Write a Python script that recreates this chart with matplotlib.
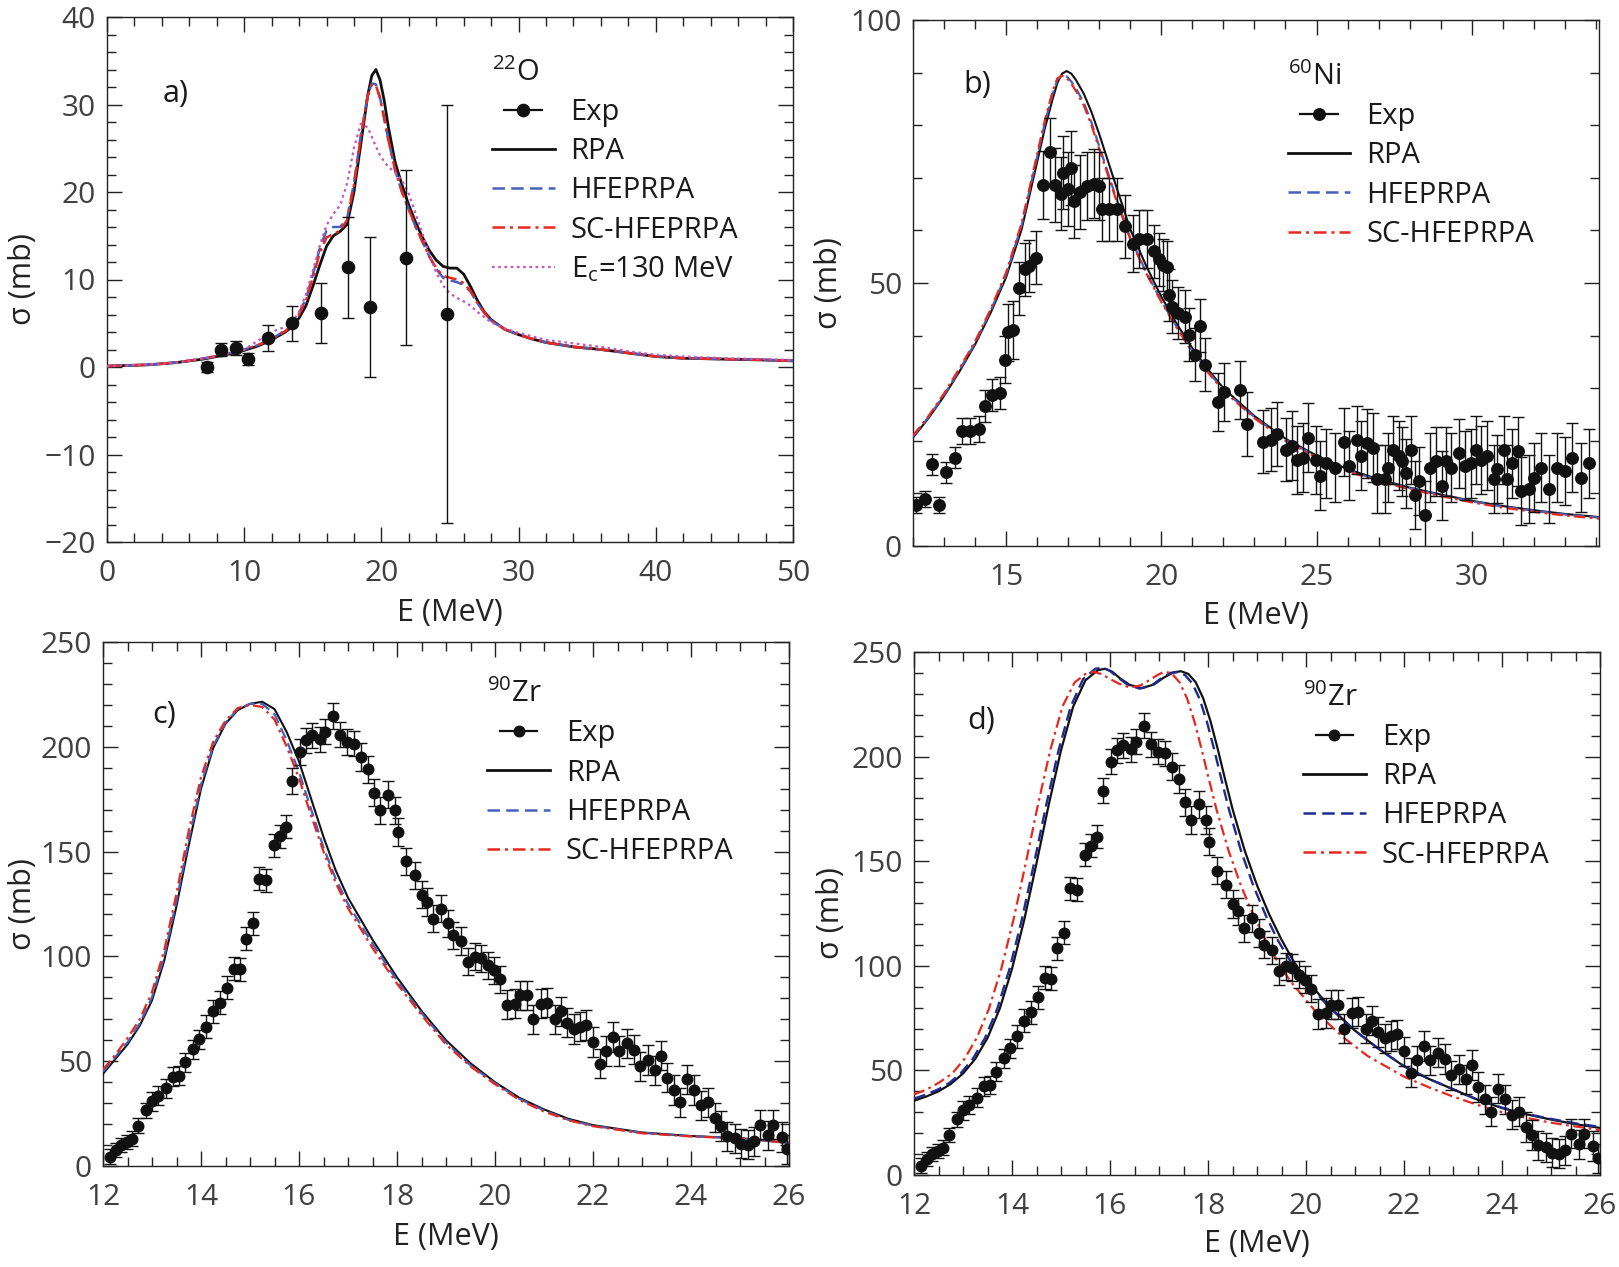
import matplotlib
matplotlib.use("Agg")
import matplotlib.pyplot as plt
from matplotlib.ticker import MultipleLocator
from matplotlib.lines import Line2D
from matplotlib.legend_handler import HandlerLine2D

plt.rcParams['font.family'] = ['Open Sans', 'DejaVu Sans']
plt.rcParams['mathtext.fontset'] = 'custom'
plt.rcParams['mathtext.rm'] = 'Open Sans'
plt.rcParams['mathtext.it'] = 'Open Sans:italic'
plt.rcParams['mathtext.bf'] = 'Open Sans:bold'

# ---------------- panel a : 22O ----------------
a_exp_E = [7.3, 8.3, 9.4, 10.3, 11.7, 13.5, 15.6, 17.6, 19.2, 21.8, 24.8]
a_exp_s = [0.0, 2.0, 2.2, 0.9, 3.3, 5.0, 6.2, 11.4, 6.9, 12.5, 6.1]
a_exp_err = [0.6, 0.7, 0.8, 0.7, 1.5, 2.0, 3.4, 5.8, 8.0, 10.0, 23.9]

a_E = [0, 3, 5, 7, 8, 9, 10, 11, 12, 13, 13.5, 14, 14.5, 15, 15.5, 16, 16.5, 17, 17.5, 18,
       18.5, 19, 19.3, 19.6, 19.9, 20.2, 20.5, 21, 21.5, 22, 22.5, 23, 23.5, 24, 24.5, 25,
       25.5, 26, 26.5, 27, 27.5, 28, 29, 30, 31, 32, 34, 36, 38, 40, 42, 45, 48, 50]
a_rpa = [0.1, 0.25, 0.5, 0.9, 1.2, 1.5, 1.9, 2.4, 3.1, 4.0, 4.6, 5.6, 7.0, 9.2, 11.6, 13.8,
         15.0, 15.5, 16.3, 20.0, 25.5, 31.0, 33.3, 34.0, 32.8, 30.5, 27.5, 23.4, 20.8, 18.5,
         16.5, 14.8, 13.3, 12.2, 11.5, 11.3, 11.3, 10.6, 9.2, 7.6, 6.3, 5.4, 4.3, 3.7, 3.2,
         2.8, 2.3, 2.0, 1.6, 1.2, 1.0, 0.9, 0.8, 0.7]
a_hf = [0.1, 0.25, 0.5, 0.95, 1.25, 1.6, 2.0, 2.5, 3.2, 4.2, 5.0, 6.2, 7.8, 10.5, 13.5, 15.6,
        16.0, 16.0, 17.0, 21.0, 26.5, 31.0, 32.4, 32.3, 30.8, 28.5, 26.0, 22.5, 20.0, 18.0,
        16.0, 14.3, 12.6, 11.2, 10.2, 9.9, 9.7, 9.4, 8.6, 7.3, 6.2, 5.3, 4.3, 3.7, 3.2,
        2.8, 2.3, 2.0, 1.6, 1.2, 1.0, 0.9, 0.8, 0.7]
a_sc = [0.1, 0.25, 0.5, 0.95, 1.25, 1.6, 2.0, 2.5, 3.2, 4.1, 4.9, 6.0, 7.6, 10.2, 13.0, 14.8,
        15.2, 15.6, 16.8, 20.8, 26.3, 31.0, 32.3, 32.2, 30.7, 28.4, 26.0, 22.5, 20.0, 18.0,
        16.0, 14.3, 12.6, 11.3, 10.4, 10.2, 10.0, 9.6, 8.7, 7.3, 6.2, 5.3, 4.3, 3.7, 3.2,
        2.8, 2.3, 2.0, 1.6, 1.2, 1.0, 0.9, 0.8, 0.7]
a_ec = [0.1, 0.3, 0.5, 1.0, 1.3, 1.6, 2.0, 3.0, 4.0, 4.6, 5.1, 6.3, 8.3, 11.0, 13.8, 16.2,
        17.5, 18.5, 21.0, 25.0, 27.8, 27.4, 26.3, 25.2, 24.2, 23.5, 22.9, 22.2, 21.3, 19.8,
        17.5, 15.2, 12.8, 10.8, 9.3, 8.4, 7.9, 7.5, 7.0, 6.3, 5.7, 5.1, 4.4, 3.9, 3.5,
        3.1, 2.7, 2.3, 1.8, 1.4, 1.2, 1.0, 0.9, 0.8]

# ---------------- panel b : 60Ni ----------------
b_exp_E = [12.11, 12.39, 12.61, 12.84, 13.06, 13.35, 13.58, 13.85, 14.13, 14.31,
           14.56, 14.81, 14.97, 15.06, 15.23, 15.42, 15.61, 15.74, 15.95, 16.19,
           16.42, 16.58, 16.76, 16.84, 17.0, 17.08, 17.19, 17.39, 17.61, 17.84,
           18.0, 18.08, 18.32, 18.56, 18.84, 19.08, 19.29, 19.53, 19.77, 19.94,
           20.06, 20.18, 20.26, 20.34, 20.55, 20.77, 20.9, 21.1, 21.26, 21.42,
           21.81, 22.03, 22.52, 22.76, 23.26, 23.52, 23.73, 24.02, 24.21, 24.37,
           24.58, 24.74, 24.97, 25.1, 25.29, 25.58, 25.87, 26.06, 26.31, 26.44,
           26.63, 26.82, 26.95, 27.19, 27.31, 27.47, 27.65, 27.76, 27.89, 28.03,
           28.16, 28.29, 28.48, 28.65, 28.84, 29.05, 29.16, 29.32, 29.58, 29.77,
           29.97, 30.13, 30.29, 30.5, 30.71, 30.82, 31.03, 31.15, 31.31, 31.5,
           31.58, 31.84, 32.0, 32.24, 32.48, 32.76, 33.0, 33.24, 33.52, 33.77]
b_exp_s = [7.8, 9.0, 15.5, 7.8, 14.0, 16.8, 21.9, 21.9, 22.2, 26.6,
           28.7, 29.1, 35.4, 40.6, 41.0, 49.0, 52.6, 53.2, 54.8, 68.6,
           74.9, 68.6, 67.0, 71.0, 67.9, 71.9, 65.5, 67.3, 68.5, 68.9,
           68.5, 64.0, 64.0, 64.0, 60.8, 57.5, 58.3, 58.3, 56.0, 54.5,
           53.4, 53.0, 47.7, 45.5, 44.3, 43.6, 40.2, 36.4, 41.9, 34.5,
           27.4, 29.3, 29.6, 23.2, 19.8, 20.2, 21.3, 18.3, 19.1, 16.4,
           16.8, 20.6, 16.4, 13.4, 15.7, 14.9, 19.8, 15.3, 20.2, 17.2,
           19.5, 18.7, 12.7, 12.7, 14.9, 18.3, 17.2, 16.1, 13.8, 18.3,
           9.7, 12.3, 5.9, 14.9, 16.1, 11.5, 16.1, 14.9, 17.6, 15.3,
           15.7, 18.3, 16.4, 17.2, 12.7, 14.6, 18.3, 12.7, 15.7, 18.0,
           10.4, 10.8, 13.0, 14.9, 10.8, 14.9, 14.2, 16.8, 13.0, 15.7]
b_exp_err = [1.5, 1.5, 2.0, 1.5, 2.0, 2.0, 2.5, 2.5, 2.5, 3.0,
             3.0, 3.0, 4.5, 5.5, 5.5, 5.0, 5.0, 5.0, 5.0, 6.5,
             6.5, 7.0, 7.0, 7.0, 7.0, 7.0, 7.0, 7.0, 6.5, 6.5,
             6.5, 6.0, 6.0, 6.0, 6.0, 5.5, 5.5, 5.5, 5.0, 5.0,
             5.0, 5.0, 5.0, 5.0, 5.0, 5.0, 5.0, 5.0, 5.0, 5.0,
             5.5, 5.5, 5.5, 6.0, 6.0, 6.0, 6.0, 6.0, 6.5, 6.5,
             6.5, 6.5, 6.5, 6.5, 6.5, 6.5, 6.5, 6.5, 6.5, 6.5,
             6.5, 6.5, 6.5, 6.5, 6.5, 6.5, 6.5, 6.5, 6.5, 6.5,
             6.5, 6.5, 6.5, 6.5, 6.5, 6.5, 6.5, 6.5, 6.5, 6.5,
             6.5, 6.5, 6.5, 6.5, 6.5, 6.5, 6.5, 6.5, 6.5, 6.5,
             6.5, 6.5, 6.5, 6.5, 6.5, 6.5, 6.5, 6.5, 6.5, 6.5]

b_E = [12, 12.5, 13, 13.5, 14, 14.5, 15, 15.5, 16, 16.25, 16.5, 16.65, 16.8, 16.95, 17.1,
       17.25, 17.5, 17.75, 18, 18.5, 19, 19.5, 20, 20.5, 21, 21.5, 22, 23, 24, 25, 26, 27,
       28, 29, 30, 31, 32, 33, 34.1]
b_rpa = [20.6, 24.3, 28.5, 33.2, 38.3, 44.3, 51.1, 60.2, 73, 79.5, 85, 88, 89.8, 90.3, 89.8,
         88.6, 86, 82.5, 78.3, 69.2, 60.2, 53.4, 47.4, 42.2, 37.6, 33.6, 30, 24.7, 20.4,
         17.2, 14.6, 12.7, 11.1, 9.8, 8.6, 7.6, 6.8, 6.1, 5.5]
b_hf = [20.8, 24.5, 28.7, 33.5, 38.6, 44.7, 51.6, 61, 74, 80.5, 86, 88.6, 89.5, 89.3, 88.3,
        87, 84.3, 80.5, 76, 67, 58.6, 52.2, 46.6, 41.6, 37.1, 33.2, 29.7, 24.5, 20.2, 17.0,
        14.4, 12.5, 11.0, 9.7, 8.5, 7.5, 6.7, 6.0, 5.4]
b_sc = [21, 24.7, 29, 33.8, 38.9, 45, 52, 61.4, 74.5, 81, 86.5, 88.9, 89.4, 89.0, 87.9,
        86.5, 83.8, 80, 75.5, 66.6, 58.3, 52, 46.4, 41.4, 36.9, 33, 29.5, 24.3, 20.0, 16.8,
        14.2, 12.3, 10.8, 9.5, 8.3, 7.3, 6.5, 5.8, 5.2]

# ---------------- panels c, d : 90Zr ----------------
zr_exp_E = [12.15, 12.27, 12.37, 12.49, 12.6, 12.71, 12.87, 13.0, 13.12, 13.28,
            13.43, 13.55, 13.68, 13.84, 13.96, 14.11, 14.24, 14.38, 14.53, 14.67,
            14.79, 14.91, 15.06, 15.18, 15.33, 15.48, 15.61, 15.74, 15.86, 16.03,
            16.14, 16.27, 16.42, 16.54, 16.69, 16.83, 16.97, 17.12, 17.26, 17.41,
            17.54, 17.66, 17.82, 17.95, 18.03, 18.19, 18.36, 18.5, 18.61, 18.73,
            18.9, 19.04, 19.14, 19.31, 19.45, 19.59, 19.72, 19.86, 19.97, 20.11,
            20.24, 20.4, 20.52, 20.65, 20.78, 20.93, 21.06, 21.22, 21.35, 21.47,
            21.61, 21.74, 21.86, 22.0, 22.14, 22.27, 22.41, 22.53, 22.69, 22.83,
            22.96, 23.13, 23.26, 23.38, 23.52, 23.65, 23.78, 23.92, 24.07, 24.2,
            24.35, 24.48, 24.61, 24.74, 24.89, 25.02, 25.17, 25.29, 25.41, 25.58,
            25.68, 25.86, 25.96]
zr_exp_s = [4.4, 7.6, 10.0, 11.5, 13.1, 19.2, 26.6, 30.9, 33.5, 37.0,
            42.5, 43.0, 49.4, 55.7, 60.5, 66.4, 73.8, 77.8, 85.0, 94.2,
            93.9, 108.5, 115.7, 137.1, 136.3, 153.0, 157.3, 161.8, 183.7, 197.5,
            203.1, 205.5, 203.6, 207.1, 214.7, 205.8, 202.3, 201.5, 195.1, 189.3,
            178.1, 169.7, 177.2, 169.7, 159.4, 145.4, 138.7, 129.5, 126.0, 118.0,
            122.8, 115.7, 110.1, 107.4, 97.4, 99.8, 99.0, 95.8, 93.4, 89.0,
            77.0, 77.5, 81.5, 81.5, 70.0, 77.5, 78.0, 70.0, 73.8, 68.4,
            65.3, 66.4, 67.2, 59.2, 48.9, 54.8, 61.6, 54.8, 58.5, 55.5,
            47.6, 50.6, 45.7, 52.6, 42.1, 36.2, 30.3, 41.3, 36.2, 28.9,
            30.3, 23.0, 19.1, 14.2, 13.2, 10.6, 10.2, 11.8, 19.7, 14.6,
            19.7, 13.8, 7.9]
zr_exp_err = [3.5, 3.5, 3.5, 3.5, 3.5, 3.5, 3.5, 4.5, 4.5, 4.5,
              4.5, 4.5, 4.5, 4.5, 4.5, 5.5, 5.5, 5.5, 5.5, 5.5,
              5.5, 5.5, 5.5, 5.5, 5.5, 5.5, 5.5, 5.5, 6.0, 6.0,
              6.0, 6.0, 6.0, 6.0, 6.0, 6.0, 6.0, 6.0, 6.5, 6.5,
              6.5, 6.5, 6.5, 6.5, 6.5, 6.5, 6.5, 6.5, 6.5, 6.5,
              6.5, 6.5, 6.5, 6.5, 6.5, 6.5, 6.5, 6.5, 6.5, 6.5,
              7.0, 7.0, 7.0, 7.0, 7.0, 7.0, 7.0, 7.0, 7.0, 7.0,
              7.0, 7.0, 7.0, 7.0, 7.0, 7.0, 7.0, 7.0, 7.0, 7.0,
              7.0, 7.0, 7.0, 7.0, 7.0, 7.0, 7.0, 7.0, 7.0, 7.0,
              7.0, 7.0, 7.0, 7.0, 7.0, 7.0, 7.0, 7.0, 7.0, 7.0,
              7.0, 7.0, 7.0]

c_E = [12, 12.25, 12.5, 12.75, 13, 13.25, 13.5, 13.75, 14, 14.25, 14.5, 14.75, 15, 15.25,
       15.5, 15.75, 16, 16.25, 16.5, 16.75, 17, 17.5, 18, 18.5, 19, 19.5, 20, 20.5, 21, 21.5,
       22, 23, 24, 25, 26]
c_rpa = [44, 51, 58, 67, 79, 98, 124, 153, 180, 199.5, 211, 217.5, 220.5, 221.5, 218, 207,
         193, 175, 157, 141, 128, 108, 90, 74, 60, 49, 40, 32.5, 27, 22.5, 19.5, 16, 14.3,
         13.3, 11]
c_hf = [45, 52, 59, 68, 80.5, 100, 126.5, 155.5, 182, 200.5, 211.5, 218, 220.5, 220.5, 215.5,
        203, 188, 170, 152, 137, 125, 106, 88.5, 73, 59, 48, 39.5, 32, 26.5, 22, 19.2, 15.8,
        14.2, 13.2, 11]
c_sc = [46, 53, 61, 70, 83, 103, 130, 160, 185.5, 202.5, 212.5, 218.5, 220, 219, 213, 200,
        185, 167, 150, 135, 123, 104, 87, 72, 58, 47.5, 39, 31.5, 26, 21.8, 19, 15.6, 14.1,
        13.2, 11]

d_rpa_E = [12, 12.25, 12.5, 12.75, 13, 13.25, 13.5, 13.75, 14, 14.25,
           14.5, 14.75, 15, 15.25, 15.5, 15.75, 15.9, 16.05, 16.2, 16.4,
           16.65, 16.9, 17.1, 17.3, 17.45, 17.6, 17.75, 17.9, 18.05, 18.2,
           18.35, 18.5, 18.75, 19, 19.25, 19.5, 19.75, 20, 20.5, 21,
           21.5, 22, 22.5, 23, 23.5, 24, 24.5, 25, 25.5, 26]
d_rpa = [35.5, 37.5, 40, 43.5, 48.5, 55.5, 65.5, 79.5, 98.5, 122,
         149, 177, 203, 224, 236.5, 241.3, 242, 240.5, 237.5, 234.3,
         232.7, 234.5, 237.8, 240.3, 240.8, 239.5, 235.5, 228, 217, 203.5,
         189, 175, 155, 138.5, 124.5, 112.5, 102, 93.5, 80, 69,
         60, 52, 46, 41, 36, 32, 29, 26.5, 24.3, 22.5]
d_hf_E = [12, 12.25, 12.5, 12.72, 12.95, 13.2, 13.45, 13.7, 13.95, 14.2,
          14.45, 14.7, 14.95, 15.2, 15.45, 15.7, 15.85, 16.0, 16.15, 16.35,
          16.6, 16.85, 17.05, 17.23, 17.38, 17.53, 17.68, 17.83, 17.98, 18.13,
          18.28, 18.43, 18.68, 18.93, 19.18, 19.43, 19.7, 19.96, 20.48, 21,
          21.5, 22, 22.5, 23, 23.5, 24, 24.5, 25, 25.5, 26]
d_hf = [36.5, 38.5, 41, 44, 48.5, 55.5, 65.5, 79.5, 98.5, 122,
        149, 177, 203, 224, 237, 242, 242.5, 241, 238, 234.5,
        232.5, 234, 237.5, 240, 240.3, 239, 235, 227.5, 216.5, 203,
        188.5, 174.5, 154.5, 138, 124, 112, 101.5, 93.5, 80, 69,
        60, 52, 46, 41, 36, 32.2, 29.2, 26.8, 24.7, 23]
d_sc_E = [12, 12.25, 12.5, 12.78, 13.03, 13.28, 13.53, 13.78, 14.03, 14.28,
          14.53, 14.78, 15.03, 15.28, 15.5, 15.67, 15.82, 15.97, 16.17, 16.4,
          16.62, 16.8, 16.97, 17.1, 17.25, 17.42, 17.57, 17.72, 17.87, 18.02,
          18.17, 18.42, 18.67, 18.92, 19.17, 19.42, 19.67, 20.2, 20.75, 21.25,
          22, 22.5, 23, 23.5, 24, 24.5, 25, 25.5, 26]
d_sc = [38.5, 40.8, 44, 48.5, 55.5, 65.5, 79.5, 98.5, 122, 149,
        177, 203, 224, 235.5, 239.5, 240.5, 239.5, 237.5, 235, 233,
        234, 236.5, 239, 240.5, 240, 235.5, 228, 217, 203.5, 189,
        175, 155, 138.5, 124.5, 112.5, 102, 93, 78, 66, 57,
        47, 42, 37.5, 33.5, 30, 27.3, 25, 23.2, 21.5]

# ---------------- styling ----------------
BLACK = '#111111'
BLUE = '#4660bd'
NAVY = '#1f2b8f'
RED = '#e8281f'
MAG = '#c257be'
TICKC = '#404040'
FS = 21.5

W, H = 1619, 1267
fig = plt.figure(figsize=(W / 100, H / 100), dpi=100)


def add_axes(x0, y0, x1, y1):
    return fig.add_axes([x0 / W, 1 - y1 / H, (x1 - x0) / W, (y1 - y0) / H])


class ShortLine(HandlerLine2D):
    def __init__(self, frac=0.6, **kw):
        super().__init__(**kw)
        self.frac = frac

    def create_artists(self, legend, orig_handle, xdescent, ydescent, width, height,
                       fontsize, trans):
        w = width * self.frac
        xd = xdescent - (width - w) / 2
        return super().create_artists(legend, orig_handle, xd, ydescent, w, height,
                                      fontsize, trans)


def style(ax, xlim, ylim, xmaj, xmin, ymaj, ymin, xlab_y, ylab_x):
    ax.set_xlim(*xlim)
    ax.set_ylim(*ylim)
    ax.xaxis.set_major_locator(MultipleLocator(xmaj))
    ax.xaxis.set_minor_locator(MultipleLocator(xmin))
    ax.yaxis.set_major_locator(MultipleLocator(ymaj))
    ax.yaxis.set_minor_locator(MultipleLocator(ymin))
    ax.tick_params(which='both', direction='in', top=True, right=True, width=1.0,
                   color='#222222')
    ax.tick_params(which='major', length=10.5)
    ax.tick_params(which='minor', length=6.5)
    ax.tick_params(axis='x', which='major', pad=12, labelsize=FS, labelcolor=TICKC)
    ax.tick_params(axis='y', which='major', pad=8, labelsize=FS, labelcolor=TICKC)
    for s in ax.spines.values():
        s.set_linewidth(1.0)
        s.set_color('#222222')
    ax.set_xlabel('E (MeV)', fontsize=22, color='#222222', va='center')
    ax.xaxis.set_label_coords(0.5, xlab_y)
    ax.set_ylabel('σ (mb)', fontsize=22, color='#222222', va='center')
    ax.yaxis.set_label_coords(ylab_x, 0.5)


def exp_points(ax, E, s, err, ms, cap):
    ax.errorbar(E, s, yerr=err, fmt='o', color=BLACK, ms=ms, elinewidth=1.0,
                capsize=cap, capthick=1.0, zorder=5)


def add_legend(ax, title, handles, labels, anchor):
    leg = ax.legend(handles, labels, title=title, loc='upper left', bbox_to_anchor=anchor,
                    frameon=False, fontsize=21, title_fontsize=21, borderpad=0,
                    borderaxespad=0, handlelength=2.15, handletextpad=0.55,
                    labelspacing=0.35, alignment='left',
                    handler_map={handles[0]: ShortLine(0.6)})
    for t in leg.get_texts():
        t.set_color('#1a1a1a')
    leg.get_title().set_color('#1a1a1a')
    return leg


def legend_handles(ms, hfcolor, with_ec=False):
    hs = [Line2D([], [], color=BLACK, marker='o', ms=ms, lw=1.6),
          Line2D([], [], color=BLACK, lw=2.0),
          Line2D([], [], color=hfcolor, lw=1.8, ls=(0, (5, 2.5))),
          Line2D([], [], color=RED, lw=1.8, ls=(0, (5, 2, 1.2, 2)))]
    if with_ec:
        hs.append(Line2D([], [], color=MAG, lw=1.6, ls=(0, (1.2, 1.6))))
    return hs


# ---- panel a ----
axA = add_axes(107, 17, 793, 542)
axA.plot(a_E, a_rpa, color=BLACK, lw=2.0, zorder=3)
axA.plot(a_E, a_hf, color=BLUE, lw=1.8, ls=(0, (5, 2.5)), zorder=3)
axA.plot(a_E, a_sc, color=RED, lw=1.8, ls=(0, (5, 2, 1.2, 2)), zorder=3)
axA.plot(a_E, a_ec, color=MAG, lw=1.6, ls=(0, (1.2, 1.6)), zorder=3)
exp_points(axA, a_exp_E, a_exp_s, a_exp_err, 8.8, 4.2)
style(axA, (0, 50), (-20, 40), 10, 2, 10, 2, -0.135, -0.123)
axA.text(0.081, 0.853, 'a)', transform=axA.transAxes, fontsize=22, ha='left', va='center',
         color='#1a1a1a')
add_legend(axA, r'$^{22}$O', legend_handles(8.8, BLUE, True),
           ['Exp', 'RPA', 'HFEPRPA', 'SC-HFEPRPA', r'E$_{\mathrm{c}}$=130 MeV'],
           (0.561, 0.922))

# ---- panel b ----
axB = add_axes(913, 20, 1599, 546)
axB.plot(b_E, b_rpa, color=BLACK, lw=1.5, zorder=3)
axB.plot(b_E, b_hf, color=BLUE, lw=1.6, ls=(0, (5, 2.5)), zorder=3)
axB.plot(b_E, b_sc, color=RED, lw=1.6, ls=(0, (5, 2, 1.2, 2)), zorder=3)
exp_points(axB, b_exp_E, b_exp_s, b_exp_err, 8.3, 4.0)
style(axB, (12, 34.1), (0, 100), 5, 1, 50, 10, -0.134, -0.122)
axB.text(0.074, 0.877, 'b)', transform=axB.transAxes, fontsize=22, ha='left', va='center',
         color='#1a1a1a')
add_legend(axB, r'$^{60}$Ni', legend_handles(8.3, BLUE),
           ['Exp', 'RPA', 'HFEPRPA', 'SC-HFEPRPA'], (0.546, 0.92))

# ---- panel c ----
axC = add_axes(103, 642, 789, 1166)
axC.plot(c_E, c_rpa, color=BLACK, lw=1.5, zorder=3)
axC.plot(c_E, c_hf, color=BLUE, lw=1.6, ls=(0, (5, 2.5)), zorder=3)
axC.plot(c_E, c_sc, color=RED, lw=1.6, ls=(0, (5, 2, 1.2, 2)), zorder=3)
exp_points(axC, zr_exp_E, zr_exp_s, zr_exp_err, 7.6, 4.5)
style(axC, (12, 26), (0, 250), 2, 0.5, 50, 10, -0.1355, -0.117)
axC.text(0.072, 0.861, 'c)', transform=axC.transAxes, fontsize=22, ha='left', va='center',
         color='#1a1a1a')
add_legend(axC, r'$^{90}$Zr', legend_handles(7.6, BLUE),
           ['Exp', 'RPA', 'HFEPRPA', 'SC-HFEPRPA'], (0.560, 0.929))

# ---- panel d ----
axD = add_axes(914, 652, 1600, 1175)
axD.plot(d_rpa_E, d_rpa, color=BLACK, lw=1.6, zorder=3)
axD.plot(d_hf_E, d_hf, color=NAVY, lw=1.7, ls=(0, (5, 2.5)), zorder=3)
axD.plot(d_sc_E, d_sc, color=RED, lw=1.6, ls=(0, (5, 2, 1.2, 2)), zorder=3)
exp_points(axD, zr_exp_E, zr_exp_s, zr_exp_err, 7.6, 4.5)
style(axD, (12, 26), (0, 250), 2, 0.5, 50, 10, -0.132, -0.121)
axD.text(0.078, 0.869, 'd)', transform=axD.transAxes, fontsize=22, ha='left', va='center',
         color='#1a1a1a')
add_legend(axD, r'$^{90}$Zr', legend_handles(7.6, NAVY),
           ['Exp', 'RPA', 'HFEPRPA', 'SC-HFEPRPA'], (0.567, 0.941))

fig.savefig('out.png', dpi=100)
